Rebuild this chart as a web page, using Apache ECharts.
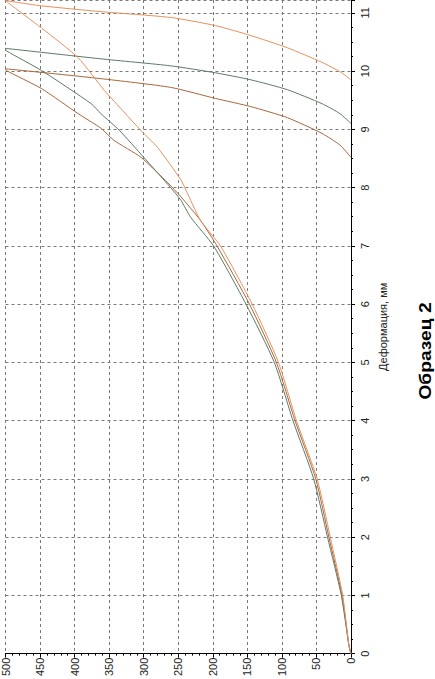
<!DOCTYPE html>
<html>
<head>
<meta charset="utf-8">
<script src="https://cdn.jsdelivr.net/npm/echarts@6/dist/echarts.min.js"></script>
<style>
  html, body { margin: 0; padding: 0; background: #fff; }
  #chart { width: 435px; height: 679px; }
</style>
</head>
<body>
<div id="chart"></div>
<script>
// pairs are [force, deformation]; loading part first, then unloading
const specimen1 = [
  [0, 0], [3, 0.14], [13, 1.0], [32, 2.0], [51, 3.0], [81, 4.0], [108, 5.0],
  [147, 6.0], [194, 7.0], [218, 7.44], [246, 7.84], [265, 8.08], [304, 8.52],
  [343, 8.81], [362, 9.02], [395, 9.27], [448, 9.70], [499, 10.01], [500, 10.04],
  [362, 9.87], [261, 9.72], [196, 9.53], [145, 9.39], [92, 9.20], [42, 8.93],
  [16, 8.73], [0, 8.52]
]
const specimen2 = [
  [0, 0], [3, 0.14], [14, 1.0], [34, 2.0], [54, 3.0], [84, 4.0], [111, 5.0],
  [152, 6.0], [199, 7.0], [232, 7.49], [246, 7.78], [261, 8.0], [300, 8.52],
  [335, 8.98], [362, 9.27], [376, 9.44], [448, 10.01], [499, 10.35], [500, 10.39],
  [362, 10.21], [261, 10.09], [196, 9.97], [145, 9.85], [92, 9.68], [42, 9.44],
  [16, 9.27], [0, 9.10]
]
const specimen3 = [
  [0, 0], [3, 0.14], [12, 1.0], [30, 2.0], [49, 3.0], [79, 4.0], [105, 5.0],
  [143, 6.0], [189, 7.0], [218, 7.44], [239, 7.96], [246, 8.13], [280, 8.69],
  [304, 8.98], [357, 9.67], [395, 10.23], [448, 10.74], [496, 11.17], [500, 11.21],
  [448, 11.12], [362, 11.02], [261, 10.92], [196, 10.78], [145, 10.61], [92, 10.40],
  [42, 10.15], [16, 9.99], [0, 9.85]
]
const seriesNames = ['1', '2', '3']
const seriesColors = ['#a8673d', '#5d7a66', '#e8915c']

const gridLine = { show: true, lineStyle: { color: '#7a7a7a', type: [3, 3], width: 1 } }
const labelFont = { fontFamily: 'Liberation Sans, Arial, sans-serif', fontSize: 11, color: '#222' }

const chart = echarts.init(document.getElementById('chart'), null, { renderer: 'svg' })
chart.setOption({
  animation: false,
  grid: { left: 4, right: 84, top: -1, bottom: 24 },
  xAxis: {
    type: 'value',
    min: 0,
    max: 500,
    interval: 50,
    inverse: true,
    position: 'bottom',
    axisLine: { show: true, onZero: false, lineStyle: { color: '#000', width: 1 } },
    axisTick: { show: true, length: 4, lineStyle: { color: '#000' } },
    minorTick: { show: true, splitNumber: 5, length: 2, lineStyle: { color: '#000' } },
    splitLine: gridLine,
    axisLabel: Object.assign({ rotate: 90, margin: 4 }, labelFont)
  },
  yAxis: {
    type: 'value',
    min: 0,
    max: 11.22,
    interval: 1,
    position: 'right',
    name: 'Деформация, мм',
    nameLocation: 'middle',
    nameRotate: 90,
    nameGap: 22,
    nameTextStyle: labelFont,
    axisLine: { show: true, onZero: false, lineStyle: { color: '#000', width: 1 } },
    axisTick: { show: true, length: 4, lineStyle: { color: '#000' } },
    minorTick: { show: true, splitNumber: 4, length: 2, lineStyle: { color: '#000' } },
    splitLine: gridLine,
    axisLabel: Object.assign({
      rotate: 90,
      margin: 8,
      showMaxLabel: false,
      formatter: v => (Number.isInteger(v) ? String(v) : '')
    }, labelFont)
  },
  graphic: [{
    type: 'text',
    x: 425,
    y: 351,
    rotation: Math.PI / 2,
    scaleX: 1.13,
    style: {
      text: 'Образец 2',
      fill: '#000',
      font: 'bold 17px "Liberation Sans", Arial, sans-serif',
      align: 'center',
      verticalAlign: 'middle'
    }
  }],
  series: [specimen1, specimen2, specimen3].map((d, i) => ({
    name: seriesNames[i],
    type: 'line',
    data: d,
    showSymbol: false,
    symbol: 'none',
    smooth: 0.2,
    lineStyle: { color: seriesColors[i], width: 1 }
  }))
})
</script>
</body>
</html>
